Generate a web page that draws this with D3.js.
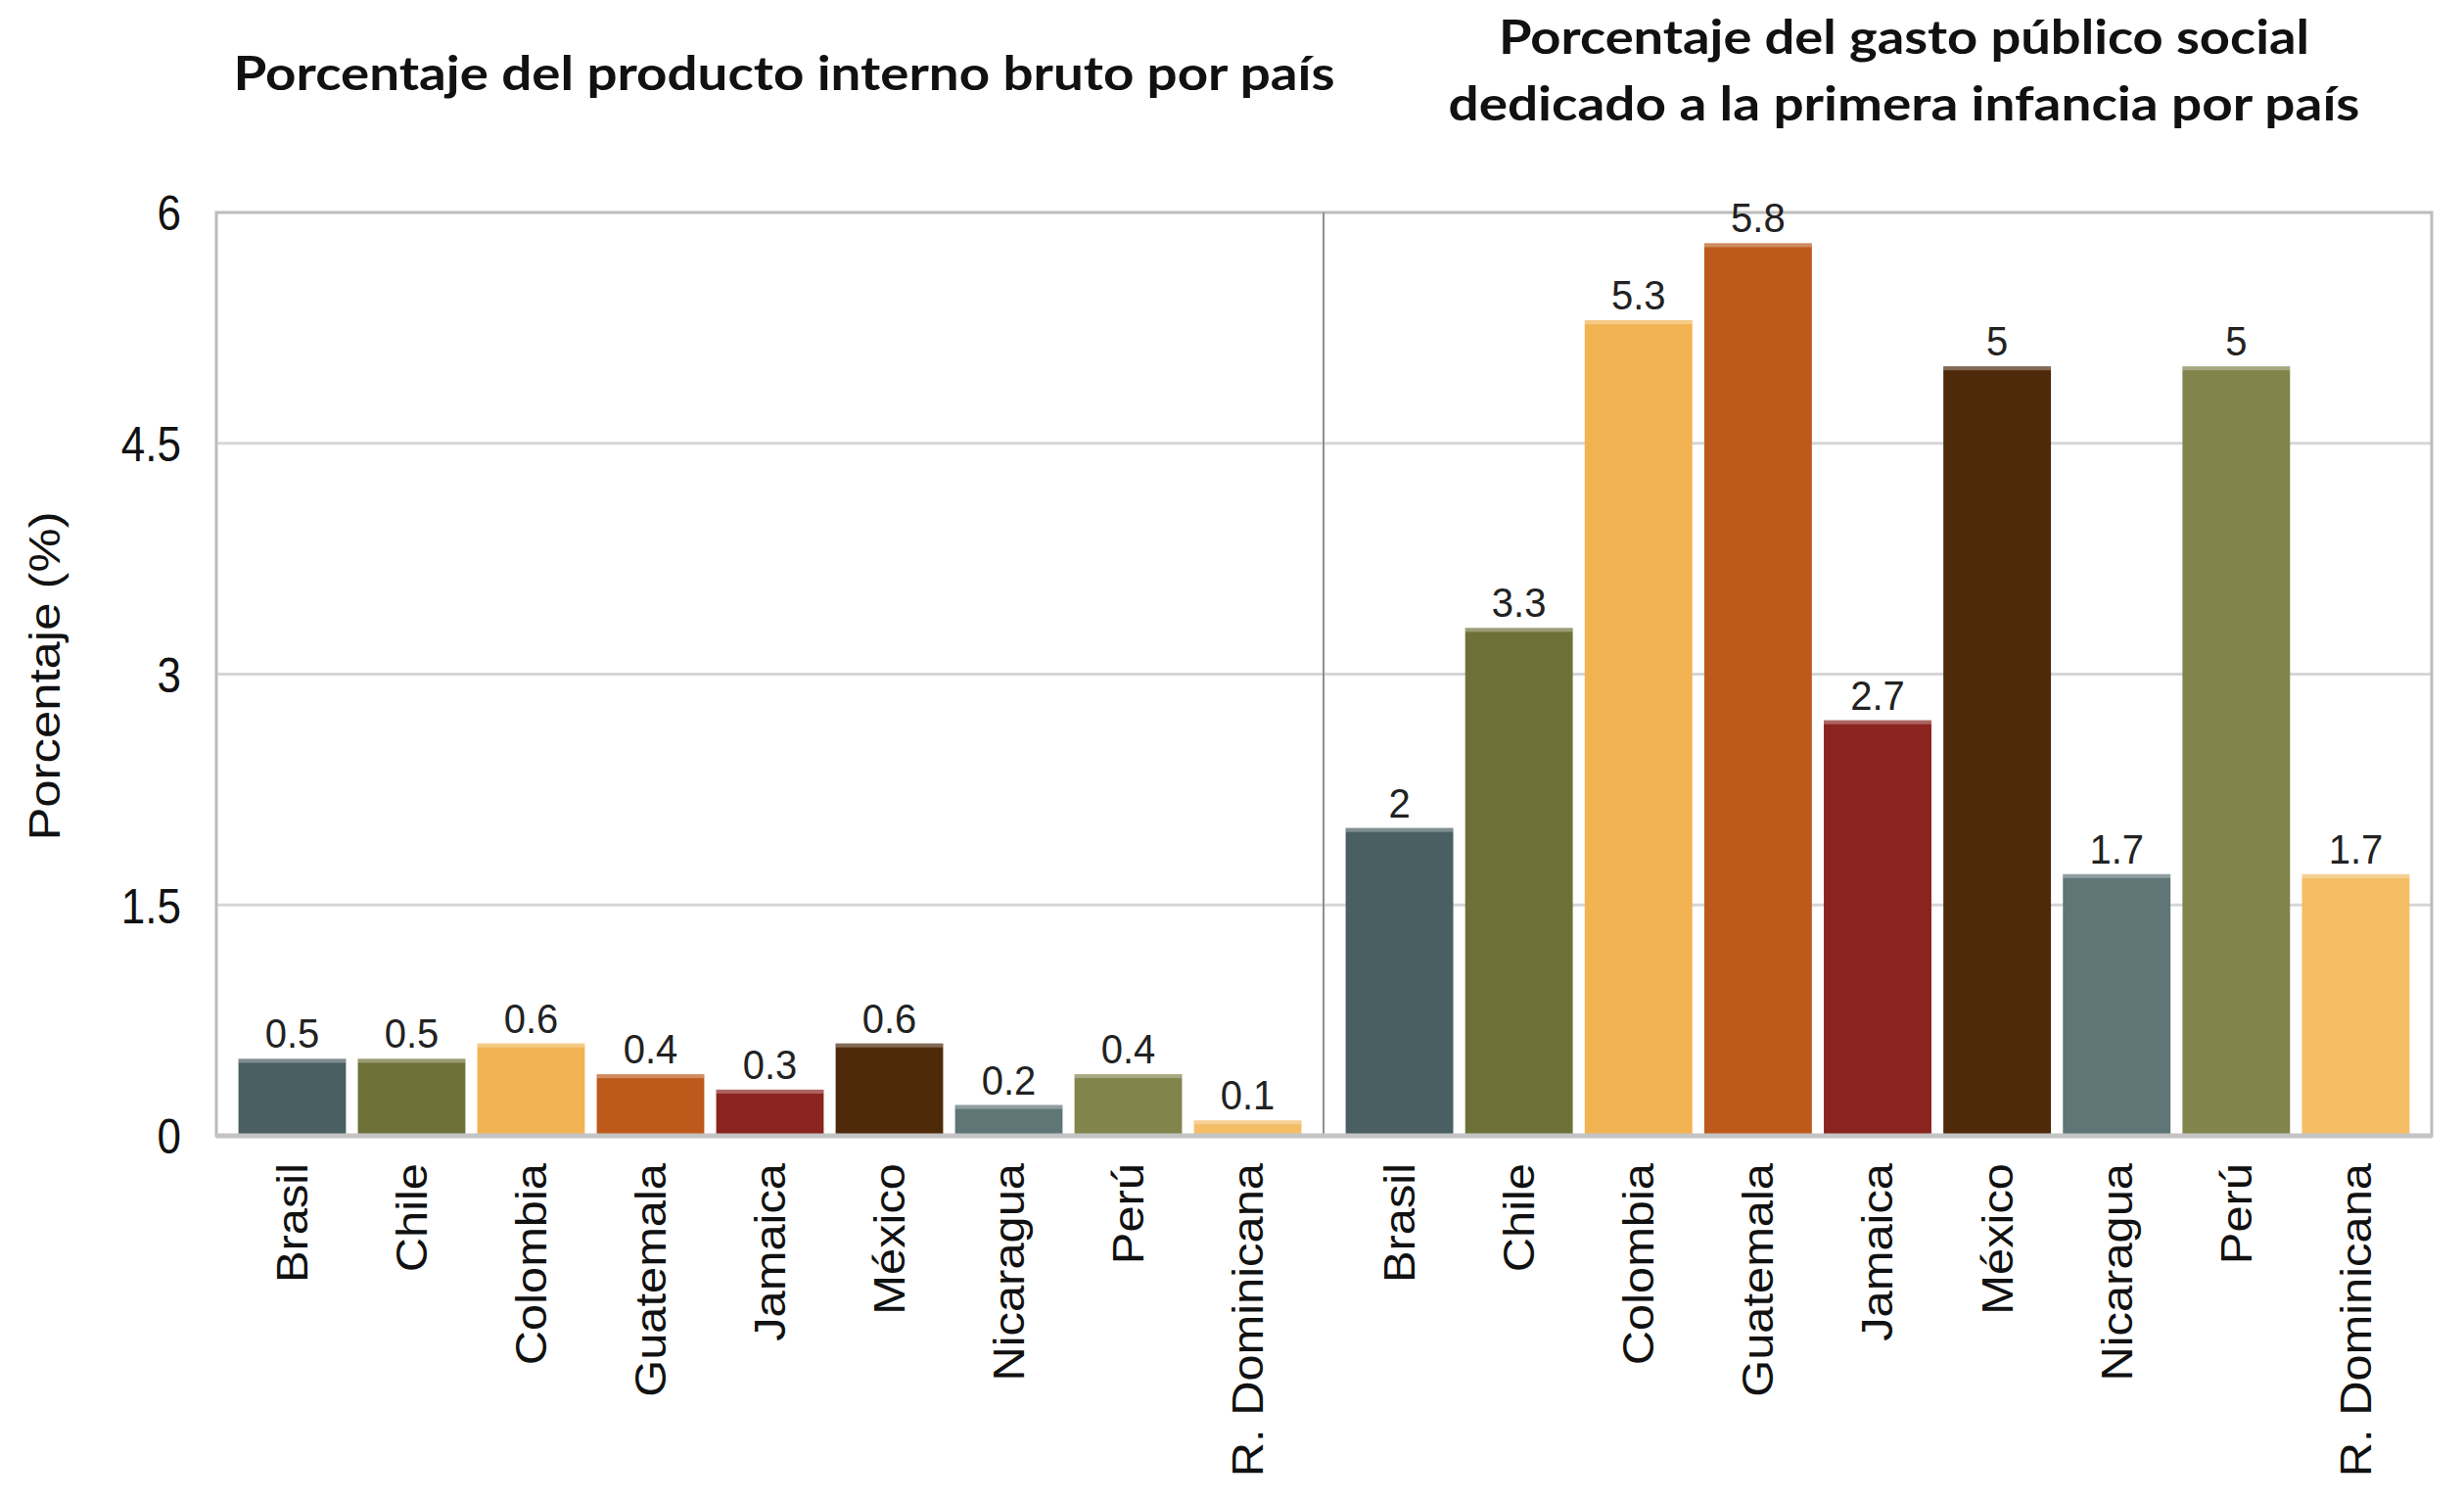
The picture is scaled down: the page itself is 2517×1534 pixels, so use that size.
<!DOCTYPE html>
<html>
<head>
<meta charset="utf-8">
<script src="https://cdn.jsdelivr.net/npm/d3@7"></script>
<style>
  body { margin: 0; background: #fff; }
  svg { display: block; }
</style>
</head>
<body>
<div id="chart"></div>
<script>
// data
const countries = ["Brasil", "Chile", "Colombia", "Guatemala", "Jamaica", "México", "Nicaragua", "Perú", "R. Dominicana"];
const pibValues = [0.5, 0.5, 0.6, 0.4, 0.3, 0.6, 0.2, 0.4, 0.1];
const gastoValues = [2, 3.3, 5.3, 5.8, 2.7, 5, 1.7, 5, 1.7];
const barColors = ["#4a5f62", "#6d7138", "#f2b352", "#bd5a1b", "#8b231f", "#4e2a0b", "#5f7576", "#81854c", "#f4bd66"];
const yTicks = [0, 1.5, 3, 4.5, 6];
const titleLeft = ["Porcentaje del producto interno bruto por país"];
const titleRight = ["Porcentaje del gasto público social", "dedicado a la primera infancia por país"];
const yLabel = "Porcentaje (%)";

let draw = function(){
    const width = 2517, height = 1534;
    const plot = {left: 221, mid: 1352, right: 2484, top: 217, bottom: 1160};

    var svg = d3.select("#chart").append("svg").attr("width", width).attr("height", height);

    var yScale = d3.scaleLinear().domain([0, 6]).range([plot.bottom, plot.top]);
    var xLeft = d3.scaleBand().domain(countries).range([plot.left, plot.mid]).paddingInner(0.1).paddingOuter(0.185);
    var xRight = d3.scaleBand().domain(countries).range([plot.mid, plot.right]).paddingInner(0.1).paddingOuter(0.185);

    // text in the picture is a bit taller than wide, so stretch vertically
    let stretched = function(g, x, y, sy, rotate){
        return g.append("text")
            .attr("transform", "translate(" + x + "," + y + ") scale(1," + sy + ")" + (rotate ? " rotate(-90)" : ""));
    };

    // gridlines
    svg.append("g").selectAll("line").data(yTicks.filter(d => d > 0 && d < 6)).enter().append("line")
        .attr("x1", plot.left).attr("x2", plot.right)
        .attr("y1", d => yScale(d)).attr("y2", d => yScale(d))
        .attr("stroke", "#d6d6d6").attr("stroke-width", 3);

    // frame
    svg.append("rect").attr("x", plot.left).attr("y", plot.top)
        .attr("width", plot.right - plot.left).attr("height", plot.bottom - plot.top)
        .attr("fill", "none").attr("stroke", "#bcbcbc").attr("stroke-width", 3);
    svg.append("line").attr("x1", plot.mid).attr("x2", plot.mid).attr("y1", plot.top).attr("y2", plot.bottom)
        .attr("stroke", "#8f8f8f").attr("stroke-width", 2);

    // bars for both panels
    let panel = function(values, xScale){
        var g = svg.append("g");
        g.selectAll("rect.bar").data(values).enter().append("rect")
            .attr("class", "bar")
            .attr("x", (d, i) => xScale(countries[i]))
            .attr("y", d => yScale(d))
            .attr("width", xScale.bandwidth())
            .attr("height", d => yScale(0) - yScale(d))
            .attr("fill", (d, i) => barColors[i]);
        // lighter strip on top of every bar
        g.selectAll("rect.hi").data(values).enter().append("rect")
            .attr("class", "hi")
            .attr("x", (d, i) => xScale(countries[i]))
            .attr("y", d => yScale(d))
            .attr("width", xScale.bandwidth())
            .attr("height", 4)
            .attr("fill", "#fff").attr("opacity", 0.3);

        values.forEach(function(d, i){
            var cx = xScale(countries[i]) + xScale.bandwidth() / 2;
            stretched(g, cx, yScale(d) - 11, 1.08, false)
                .attr("text-anchor", "middle")
                .attr("font-family", "'Liberation Sans', Arial, sans-serif")
                .attr("font-size", 40)
                .attr("fill", "#222")
                .text(d);
            stretched(g, cx, plot.bottom + 28, 1.11, true)
                .attr("text-anchor", "end")
                .attr("dy", "0.35em")
                .attr("font-family", "'Liberation Sans', Arial, sans-serif")
                .attr("font-size", 44)
                .attr("fill", "#111")
                .text(countries[i]);
        });
    };
    panel(pibValues, xLeft);
    panel(gastoValues, xRight);

    // baseline
    svg.append("line").attr("x1", plot.left).attr("x2", plot.right)
        .attr("y1", yScale(0)).attr("y2", yScale(0))
        .attr("stroke", "#c4c4c4").attr("stroke-width", 5);

    // y axis labels
    var yAxis = d3.axisLeft(yScale).tickValues(yTicks).tickSize(0).tickFormat(d => d);
    var ya = svg.append("g").attr("transform", "translate(185,0)").call(yAxis);
    ya.select(".domain").remove();
    ya.selectAll(".tick text").remove();
    ya.selectAll(".tick").each(function(d){
        stretched(d3.select(this), 0, 0, 1.13, false)
            .attr("text-anchor", "end")
            .attr("dy", "0.36em")
            .attr("font-family", "'Liberation Sans', Arial, sans-serif")
            .attr("font-size", 44)
            .attr("fill", "#111")
            .text(d);
    });

    stretched(svg, 61, (plot.top + plot.bottom) / 2 + 2, 1.13, true)
        .attr("text-anchor", "middle")
        .attr("font-family", "'Liberation Sans', Arial, sans-serif")
        .attr("font-size", 45)
        .attr("fill", "#111")
        .text(yLabel);

    // titles
    let title = function(txt, cx, y, len){
        svg.append("text").attr("x", cx).attr("y", y)
            .attr("text-anchor", "middle")
            .attr("font-family", "Lato, 'Open Sans', sans-serif")
            .attr("font-weight", 700)
            .attr("font-size", 47)
            .attr("fill", "#111")
            .attr("textLength", len).attr("lengthAdjust", "spacingAndGlyphs")
            .text(txt);
    };
    title(titleLeft[0], 801, 92, 1125);
    title(titleRight[0], 1945, 55, 828);
    title(titleRight[1], 1945, 123, 931);
};
draw();
</script>
</body>
</html>
